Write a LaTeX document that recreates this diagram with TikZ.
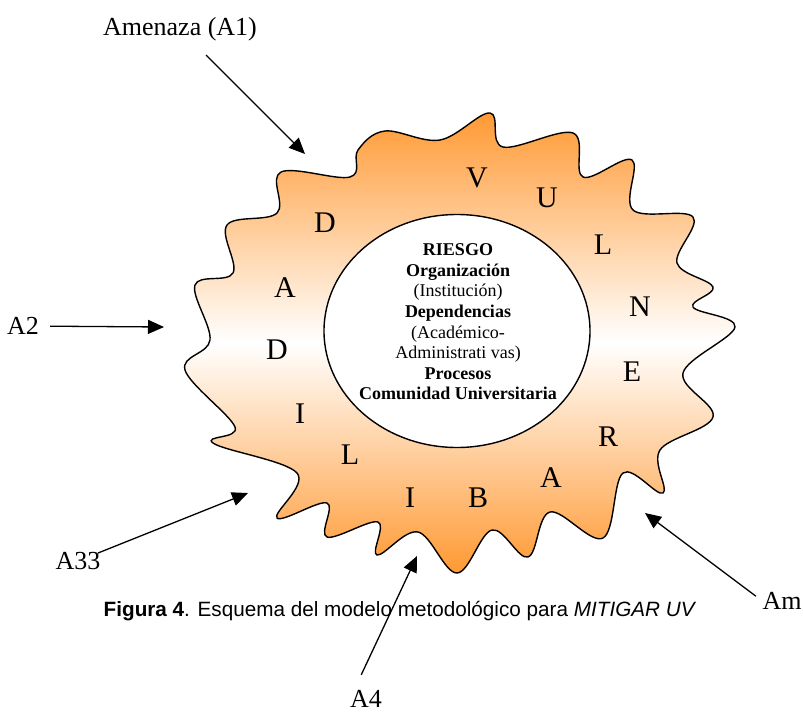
\documentclass[tikz,border=0pt]{standalone}
\usepackage{fontspec}
\setmainfont{Liberation Serif}
\newfontfamily\arialfont{Liberation Sans}
\usetikzlibrary{arrows.meta,positioning,shapes}
\definecolor{naranja}{RGB}{255,153,51}

\begin{document}
\begin{tikzpicture}[
    x=1pt, y=-1pt,
    every node/.style={align=center},
    letra/.style={font=\fontsize{30}{36}\selectfont, inner sep=0pt},
    etiqueta/.style={font=\fontsize{26}{30}\selectfont, inner sep=2pt},
    nucleo/.style={ellipse, draw, line width=1.4pt, fill=white, minimum width=266pt, minimum height=233pt, inner sep=0pt},
    flecha/.style={line width=1.3pt, -{Triangle[length=16pt, width=14pt]}}
  ]
    \useasboundingbox (0,0) rectangle (803,715);

    % Estrella de vulnerabilidad
    \path[draw, line width=1.4pt, top color=naranja, bottom color=naranja, middle color=white]
      plot[smooth cycle, tension=0.6] coordinates {
        (490,113) (503,147) (573,133) (583,177) (632,160) (633,210)
        (693,217) (677,263) (713,287) (693,307) (735,327) (683,373)
        (713,417) (660,450) (663,493) (623,473) (603,538) (550,512)
        (528,557) (492,530) (457,573) (418,532) (377,555) (378,522)
        (327,537) (327,503) (277,518) (297,473) (213,443) (235,427)
        (185,370) (210,340) (195,285) (233,273) (227,225) (277,213)
        (281,172) (350,177) (358,150) (385,131) (440,140)};

    % Nucleo central
    \node[nucleo] (nucleo) at (457,331) {};
    \node[font=\fontsize{18}{20.6}\selectfont] (riesgo) at (458,322) {\textbf{RIESGO}\\\textbf{Organización}\\(Institución)\\\textbf{Dependencias}\\(Académico-\\Administrati vas)\\\textbf{Procesos}\\\textbf{Comunidad Universitaria}};

    % Letras alrededor
    \node[letra] (lv) at (477,178) {V};
    \node[letra] (lu) at (547,198) {U};
    \node[letra] (ll1) at (603,245) {L};
    \node[letra] (ln) at (640,307) {N};
    \node[letra] (le) at (632,372) {E};
    \node[letra] (lr) at (608,437) {R};
    \node[letra] (la1) at (551,478) {A};
    \node[letra] (lb) at (478,498) {B};
    \node[letra] (li1) at (410,498) {I};
    \node[letra] (ll2) at (350,455) {L};
    \node[letra] (li2) at (300,414) {I};
    \node[letra] (ld1) at (277,350) {D};
    \node[letra] (la2) at (285,288) {A};
    \node[letra] (ld2) at (325,223) {D};

    % Amenazas
    \node[etiqueta] (a1) at (180,29) {Amenaza (A1)};
    \node[etiqueta] (a2) at (23,326) {A2};
    \node[etiqueta] (a33) at (78,561) {A33};
    \node[etiqueta, inner sep=0pt] (a4) at (366,699) {A4};
    \node[etiqueta, inner sep=0pt] (a5) at (782,601) {Am};

    \coordinate (p1) at (305,154);
    \coordinate (p2) at (164,327);
    \coordinate (p33) at (248,493);
    \coordinate (p4) at (417,556);
    \coordinate (p5) at (645,513);

    \draw[flecha, shorten <=17pt] (a1) -- (p1);
    \draw[flecha, shorten <=9pt] (a2) -- (p2);
    \draw[flecha, shorten <=-5pt] (a33) -- (p33);
    \draw[flecha, shorten <=17pt] ([xshift=-12pt]a4.north) -- (p4);
    \draw[flecha, shorten <=8pt] (a5.west) -- (p5);

    % Pie de figura
    \node[font=\arialfont\fontsize{20.7}{24}\selectfont] (figura) at (400,611) {\textbf{Figura 4}. Esquema del modelo metodológico para \textit{MITIGAR UV}};

  \end{tikzpicture}
\end{document}
